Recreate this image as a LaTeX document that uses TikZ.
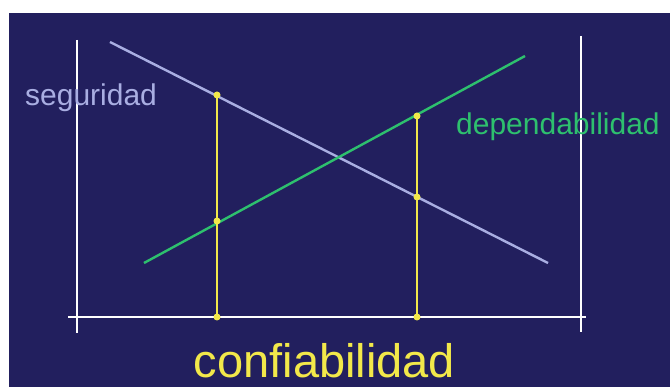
\documentclass[tikz,border=0pt]{standalone}
\usepackage{fontspec}
\setmainfont{Liberation Sans}
\definecolor{bgnavy}{HTML}{221F5E}
\definecolor{lav}{HTML}{A9AEE2}
\definecolor{grn}{HTML}{2EC06E}
\definecolor{yel}{HTML}{F2E84A}
\begin{document}
\begin{tikzpicture}[x=1pt,y=-1pt,
  axisline/.style={draw=white,line width=2.2pt},
  curveline/.style={line width=2.4pt},
  guide/.style={draw=yel,line width=2.2pt},
  pt/.style={circle,fill=yel,inner sep=0pt,minimum size=7pt},
  lbl/.style={inner sep=0pt,anchor=base west,font=\fontsize{30}{31}\selectfont}]
\useasboundingbox (0,0) rectangle (670,387);
\fill[white] (0,0) rectangle (670,387);
\fill[bgnavy] (9,13) rectangle (670,387);
% axes
\coordinate (ltop) at (77,40);
\coordinate (lbot) at (77,333);
\coordinate (rtop) at (581,36);
\coordinate (rbot) at (581,332);
\coordinate (hl) at (68,317);
\coordinate (hr) at (586,317);
\draw[axisline] (ltop) -- (lbot);
\draw[axisline] (rtop) -- (rbot);
\draw[axisline] (hl) -- (hr);
% lines
\coordinate (s1) at (110,42);
\coordinate (s2) at (548,263);
\coordinate (d1) at (144,263);
\coordinate (d2) at (525,56);
\draw[curveline,draw=lav] (s1) -- (s2);
\draw[curveline,draw=grn] (d1) -- (d2);
% guides
\node[pt] (a1) at (217,95) {};
\node[pt] (a2) at (217,221) {};
\node[pt] (a3) at (217,317) {};
\node[pt] (b1) at (417,116) {};
\node[pt] (b2) at (417,197) {};
\node[pt] (b3) at (417,317) {};
\draw[guide] (a1.center) -- (a3.center);
\draw[guide] (b1.center) -- (b3.center);
% labels
\node[lbl,text=lav] (seg) at (25,106) {seguridad};
\node[lbl,text=grn] (dep) at (456,135) {dependabilidad};
\node[inner sep=0pt,anchor=base,text=yel,font=\fontsize{47}{48}\selectfont] (conf) at (324.5,378) {confiabilidad};
\end{tikzpicture}
\end{document}
